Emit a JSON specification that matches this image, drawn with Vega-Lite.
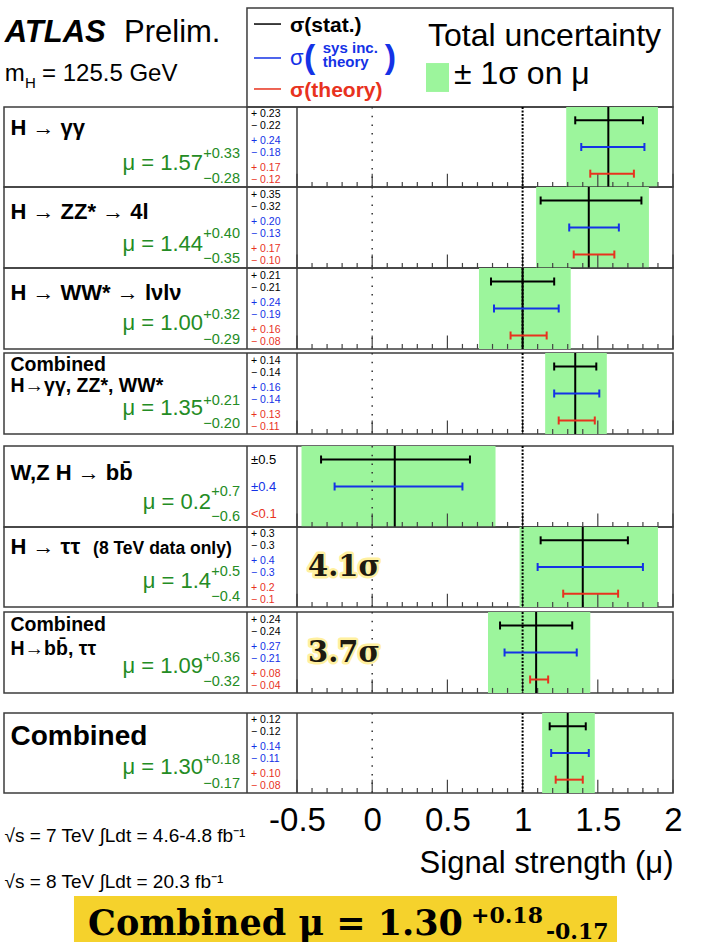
{
"$schema":"https://vega.github.io/schema/vega-lite/v6.json",
"padding":{"left":3,"top":7,"right":5,"bottom":0},
"background":"#ffffff",
"config":{"font":"Liberation Sans","view":{"stroke":"#3c3c3c","strokeWidth":1.5},"text":{"baseline":"alphabetic","color":"#000000"}},
"datasets":{
"majors":[{"v":-0.5},{"v":0},{"v":0.5},{"v":1},{"v":1.5},{"v":2}],
"minors":[{"v":-0.4},{"v":-0.3},{"v":-0.2},{"v":-0.1},{"v":0.1},{"v":0.2},{"v":0.3},{"v":0.4},{"v":0.6},{"v":0.7},{"v":0.8},{"v":0.9},{"v":1.1},{"v":1.2},{"v":1.3},{"v":1.4},{"v":1.6},{"v":1.7},{"v":1.8},{"v":1.9}],
"ch":[
{"id":"gg","label":"H → γγ","mu":1.57,"tlo":1.29,"thi":1.90,"mu_t":"μ = 1.57","up_t":"+0.33","dn_t":"−0.28"},
{"id":"zz","label":"H → ZZ* → 4l","mu":1.44,"tlo":1.09,"thi":1.84,"mu_t":"μ = 1.44","up_t":"+0.40","dn_t":"−0.35"},
{"id":"ww","label":"H → WW* → lνlν","mu":1.00,"tlo":0.71,"thi":1.32,"mu_t":"μ = 1.00","up_t":"+0.32","dn_t":"−0.29"},
{"id":"c1","label":"Combined","label2":"H→γγ, ZZ*, WW*","mu":1.35,"tlo":1.15,"thi":1.56,"mu_t":"μ = 1.35","up_t":"+0.21","dn_t":"−0.20"},
{"id":"bb","label":"W,Z H → bb̄","mu":0.15,"tlo":-0.47,"thi":0.82,"mu_t":"μ = 0.2","up_t":"+0.7","dn_t":"−0.6"},
{"id":"tt","label":"H → ττ","label2":"(8 TeV data only)","mu":1.40,"tlo":0.98,"thi":1.90,"mu_t":"μ = 1.4","up_t":"+0.5","dn_t":"−0.4","sig":"4.1σ"},
{"id":"c2","label":"Combined","label2":"H→bb̄, ττ","mu":1.09,"tlo":0.77,"thi":1.45,"mu_t":"μ = 1.09","up_t":"+0.36","dn_t":"−0.32","sig":"3.7σ"},
{"id":"all","label":"Combined","mu":1.30,"tlo":1.13,"thi":1.48,"mu_t":"μ = 1.30","up_t":"+0.18","dn_t":"−0.17"}
],
"err":[
{"id":"gg","kind":"stat","lo":1.35,"hi":1.80,"up_t":"+ 0.23","dn_t":"− 0.22"},
{"id":"gg","kind":"sys","lo":1.39,"hi":1.81,"up_t":"+ 0.24","dn_t":"− 0.18"},
{"id":"gg","kind":"th","lo":1.45,"hi":1.74,"up_t":"+ 0.17","dn_t":"− 0.12"},
{"id":"zz","kind":"stat","lo":1.12,"hi":1.79,"up_t":"+ 0.35","dn_t":"− 0.32"},
{"id":"zz","kind":"sys","lo":1.31,"hi":1.64,"up_t":"+ 0.20","dn_t":"− 0.13"},
{"id":"zz","kind":"th","lo":1.34,"hi":1.61,"up_t":"+ 0.17","dn_t":"− 0.10"},
{"id":"ww","kind":"stat","lo":0.79,"hi":1.21,"up_t":"+ 0.21","dn_t":"− 0.21"},
{"id":"ww","kind":"sys","lo":0.81,"hi":1.24,"up_t":"+ 0.24","dn_t":"− 0.19"},
{"id":"ww","kind":"th","lo":0.92,"hi":1.16,"up_t":"+ 0.16","dn_t":"− 0.08"},
{"id":"c1","kind":"stat","lo":1.21,"hi":1.49,"up_t":"+ 0.14","dn_t":"− 0.14"},
{"id":"c1","kind":"sys","lo":1.21,"hi":1.51,"up_t":"+ 0.16","dn_t":"− 0.14"},
{"id":"c1","kind":"th","lo":1.24,"hi":1.48,"up_t":"+ 0.13","dn_t":"− 0.11"},
{"id":"bb","kind":"stat","lo":-0.34,"hi":0.65,"up_t":"±0.5","dn_t":""},
{"id":"bb","kind":"sys","lo":-0.25,"hi":0.60,"up_t":"±0.4","dn_t":""},
{"id":"bb","kind":"th","lo":null,"hi":null,"up_t":"<0.1","dn_t":""},
{"id":"tt","kind":"stat","lo":1.12,"hi":1.70,"up_t":"+ 0.3","dn_t":"− 0.3"},
{"id":"tt","kind":"sys","lo":1.10,"hi":1.80,"up_t":"+ 0.4","dn_t":"− 0.3"},
{"id":"tt","kind":"th","lo":1.27,"hi":1.635,"up_t":"+ 0.2","dn_t":"− 0.1"},
{"id":"c2","kind":"stat","lo":0.85,"hi":1.33,"up_t":"+ 0.24","dn_t":"− 0.24"},
{"id":"c2","kind":"sys","lo":0.88,"hi":1.36,"up_t":"+ 0.27","dn_t":"− 0.21"},
{"id":"c2","kind":"th","lo":1.05,"hi":1.17,"up_t":"+ 0.08","dn_t":"− 0.04"},
{"id":"all","kind":"stat","lo":1.18,"hi":1.42,"up_t":"+ 0.12","dn_t":"− 0.12"},
{"id":"all","kind":"sys","lo":1.19,"hi":1.44,"up_t":"+ 0.14","dn_t":"− 0.11"},
{"id":"all","kind":"th","lo":1.22,"hi":1.40,"up_t":"+ 0.10","dn_t":"− 0.08"}
]
},
"vconcat":[
{"width":669,"height":99,"view":{"strokeOpacity":0},"data":{"values":[{}]},"layer":[
{"mark":{"type":"rect","fillOpacity":0,"stroke":"#3c3c3c","strokeWidth":1.5},"encoding":{"x":{"datum":0.3632,"type":"quantitative","scale":{"domain":[0,1]},"axis":null},"x2":{"datum":1},"y":{"datum":0,"type":"quantitative","scale":{"domain":[0,1],"reverse":true},"axis":null},"y2":{"datum":1}}},
{"mark":{"type":"text","align":"left","fontSize":31,"fontWeight":"bold","fontStyle":"italic"},"encoding":{"x":{"datum":0.001,"type":"quantitative","scale":{"domain":[0,1]},"axis":null},"y":{"datum":0.343,"type":"quantitative","scale":{"domain":[0,1],"reverse":true},"axis":null},"text":{"value":"ATLAS"}}},
{"mark":{"type":"text","align":"left","fontSize":31},"encoding":{"x":{"datum":0.1794,"type":"quantitative","scale":{"domain":[0,1]},"axis":null},"y":{"datum":0.343,"type":"quantitative","scale":{"domain":[0,1],"reverse":true},"axis":null},"text":{"value":"Prelim."}}},
{"mark":{"type":"text","align":"left","fontSize":24},"encoding":{"x":{"datum":0.001,"type":"quantitative","scale":{"domain":[0,1]},"axis":null},"y":{"datum":0.737,"type":"quantitative","scale":{"domain":[0,1],"reverse":true},"axis":null},"text":{"value":"m"}}},
{"mark":{"type":"text","align":"left","fontSize":15},"encoding":{"x":{"datum":0.0314,"type":"quantitative","scale":{"domain":[0,1]},"axis":null},"y":{"datum":0.808,"type":"quantitative","scale":{"domain":[0,1],"reverse":true},"axis":null},"text":{"value":"H"}}},
{"mark":{"type":"text","align":"left","fontSize":24},"encoding":{"x":{"datum":0.0568,"type":"quantitative","scale":{"domain":[0,1]},"axis":null},"y":{"datum":0.737,"type":"quantitative","scale":{"domain":[0,1],"reverse":true},"axis":null},"text":{"value":"= 125.5 GeV"}}},
{"mark":{"type":"rule","color":"#000000","strokeWidth":1.5},"encoding":{"x":{"datum":0.3737,"type":"quantitative","scale":{"domain":[0,1]},"axis":null},"x2":{"datum":0.4141},"y":{"datum":0.162,"type":"quantitative","scale":{"domain":[0,1],"reverse":true},"axis":null}}},
{"mark":{"type":"rule","color":"#1432e6","strokeWidth":1.5},"encoding":{"x":{"datum":0.3737,"type":"quantitative","scale":{"domain":[0,1]},"axis":null},"x2":{"datum":0.4141},"y":{"datum":0.505,"type":"quantitative","scale":{"domain":[0,1],"reverse":true},"axis":null}}},
{"mark":{"type":"rule","color":"#e8321e","strokeWidth":1.5},"encoding":{"x":{"datum":0.3737,"type":"quantitative","scale":{"domain":[0,1]},"axis":null},"x2":{"datum":0.4141},"y":{"datum":0.818,"type":"quantitative","scale":{"domain":[0,1],"reverse":true},"axis":null}}},
{"mark":{"type":"text","align":"left","fontSize":21,"fontWeight":"bold"},"encoding":{"x":{"datum":0.4275,"type":"quantitative","scale":{"domain":[0,1]},"axis":null},"y":{"datum":0.242,"type":"quantitative","scale":{"domain":[0,1],"reverse":true},"axis":null},"text":{"value":"σ(stat.)"}}},
{"mark":{"type":"text","align":"left","fontSize":22,"color":"#1432e6"},"encoding":{"x":{"datum":0.4275,"type":"quantitative","scale":{"domain":[0,1]},"axis":null},"y":{"datum":0.576,"type":"quantitative","scale":{"domain":[0,1],"reverse":true},"axis":null},"text":{"value":"σ"}}},
{"mark":{"type":"text","align":"left","fontSize":34,"fontWeight":"bold","color":"#1432e6"},"encoding":{"x":{"datum":0.4484,"type":"quantitative","scale":{"domain":[0,1]},"axis":null},"y":{"datum":0.606,"type":"quantitative","scale":{"domain":[0,1],"reverse":true},"axis":null},"text":{"value":"("}}},
{"mark":{"type":"text","align":"left","fontSize":15,"fontWeight":"bold","color":"#1432e6"},"encoding":{"x":{"datum":0.4765,"type":"quantitative","scale":{"domain":[0,1]},"axis":null},"y":{"datum":0.455,"type":"quantitative","scale":{"domain":[0,1],"reverse":true},"axis":null},"text":{"value":"sys inc."}}},
{"mark":{"type":"text","align":"left","fontSize":15,"fontWeight":"bold","color":"#1432e6"},"encoding":{"x":{"datum":0.4765,"type":"quantitative","scale":{"domain":[0,1]},"axis":null},"y":{"datum":0.596,"type":"quantitative","scale":{"domain":[0,1],"reverse":true},"axis":null},"text":{"value":"theory"}}},
{"mark":{"type":"text","align":"left","fontSize":34,"fontWeight":"bold","color":"#1432e6"},"encoding":{"x":{"datum":0.569,"type":"quantitative","scale":{"domain":[0,1]},"axis":null},"y":{"datum":0.606,"type":"quantitative","scale":{"domain":[0,1],"reverse":true},"axis":null},"text":{"value":")"}}},
{"mark":{"type":"text","align":"left","fontSize":21,"fontWeight":"bold","color":"#e8321e"},"encoding":{"x":{"datum":0.4275,"type":"quantitative","scale":{"domain":[0,1]},"axis":null},"y":{"datum":0.899,"type":"quantitative","scale":{"domain":[0,1],"reverse":true},"axis":null},"text":{"value":"σ(theory)"}}},
{"mark":{"type":"text","align":"left","fontSize":32},"encoding":{"x":{"datum":0.6338,"type":"quantitative","scale":{"domain":[0,1]},"axis":null},"y":{"datum":0.384,"type":"quantitative","scale":{"domain":[0,1],"reverse":true},"axis":null},"text":{"value":"Total uncertainty"}}},
{"mark":{"type":"rect","color":"#9cf59c"},"encoding":{"x":{"datum":0.6308,"type":"quantitative","scale":{"domain":[0,1]},"axis":null},"x2":{"datum":0.6652},"y":{"datum":0.556,"type":"quantitative","scale":{"domain":[0,1],"reverse":true},"axis":null},"y2":{"datum":0.848}}},
{"mark":{"type":"text","align":"left","fontSize":32},"encoding":{"x":{"datum":0.6726,"type":"quantitative","scale":{"domain":[0,1]},"axis":null},"y":{"datum":0.768,"type":"quantitative","scale":{"domain":[0,1],"reverse":true},"axis":null},"text":{"value":"± 1σ on μ"}}}
]},

{"width":669,"height":80,"data":{"name":"ch"},"transform":[{"filter":"datum.id=='gg'"}],"layer":[
{"mark":{"type":"rect","color":"#9cf59c"},"encoding":{"x":{"field":"tlo","type":"quantitative","scale":{"domain":[-2.4481,2],"nice":false,"zero":false},"axis":{"orient":"bottom","ticks":false,"labels":false,"domain":false,"grid":false,"title":null}},"x2":{"field":"thi"}}},
{"data":{"name":"majors"},"mark":{"type":"point","shape":"M0,0L0,1","size":720,"strokeWidth":1.2,"color":"#444444","filled":false,"opacity":1},"encoding":{"x":{"field":"v","type":"quantitative","scale":{"domain":[-2.4481,2],"nice":false,"zero":false}},"y":{"datum":"th","type":"nominal","scale":{"type":"point","domain":["stat","sys","th"],"padding":0.5},"axis":null}}},
{"data":{"name":"minors"},"mark":{"type":"point","shape":"M0,0.63L0,1","size":720,"strokeWidth":1.2,"color":"#444444","filled":false,"opacity":1},"encoding":{"x":{"field":"v","type":"quantitative","scale":{"domain":[-2.4481,2],"nice":false,"zero":false}},"y":{"datum":"th","type":"nominal","scale":{"type":"point","domain":["stat","sys","th"],"padding":0.5},"axis":null}}},
{"mark":{"type":"rule","color":"#3c3c3c","strokeWidth":1.5},"encoding":{"x":{"datum":-0.8324,"type":"quantitative","scale":{"domain":[-2.4481,2],"nice":false,"zero":false}}}},
{"mark":{"type":"rule","color":"#3c3c3c","strokeWidth":1.5},"encoding":{"x":{"datum":-0.5,"type":"quantitative","scale":{"domain":[-2.4481,2],"nice":false,"zero":false}}}},
{"mark":{"type":"rule","color":"#333333","strokeWidth":1.5,"strokeDash":[1.5,7.2]},"encoding":{"x":{"datum":0,"type":"quantitative","scale":{"domain":[-2.4481,2],"nice":false,"zero":false}}}},
{"mark":{"type":"rule","color":"#000000","strokeWidth":2,"strokeDash":[2,1.5]},"encoding":{"x":{"datum":1,"type":"quantitative","scale":{"domain":[-2.4481,2],"nice":false,"zero":false}}}},
{"mark":{"type":"rule","color":"#000000","strokeWidth":2},"encoding":{"x":{"field":"mu","type":"quantitative","scale":{"domain":[-2.4481,2],"nice":false,"zero":false}}}},
{"data":{"name":"err"},"transform":[{"filter":"datum.id=='gg' && isValid(datum.lo)"}],"mark":{"type":"rule","strokeWidth":2},"encoding":{"x":{"field":"lo","type":"quantitative","scale":{"domain":[-2.4481,2],"nice":false,"zero":false}},"x2":{"field":"hi"},"y":{"field":"kind","type":"nominal","scale":{"type":"point","domain":["stat","sys","th"],"padding":0.5},"axis":null},"color":{"field":"kind","type":"nominal","scale":{"domain":["stat","sys","th"],"range":["#000000","#1432e6","#e8321e"]},"legend":null}}},
{"data":{"name":"err"},"transform":[{"filter":"datum.id=='gg' && isValid(datum.lo)"}],"mark":{"type":"point","shape":"M0,-1L0,1","size":64,"strokeWidth":2,"filled":false,"opacity":1},"encoding":{"x":{"field":"lo","type":"quantitative","scale":{"domain":[-2.4481,2],"nice":false,"zero":false}},"y":{"field":"kind","type":"nominal","scale":{"type":"point","domain":["stat","sys","th"],"padding":0.5},"axis":null},"color":{"field":"kind","type":"nominal","scale":{"domain":["stat","sys","th"],"range":["#000000","#1432e6","#e8321e"]},"legend":null}}},
{"data":{"name":"err"},"transform":[{"filter":"datum.id=='gg' && isValid(datum.lo)"}],"mark":{"type":"point","shape":"M0,-1L0,1","size":64,"strokeWidth":2,"filled":false,"opacity":1},"encoding":{"x":{"field":"hi","type":"quantitative","scale":{"domain":[-2.4481,2],"nice":false,"zero":false}},"y":{"field":"kind","type":"nominal","scale":{"type":"point","domain":["stat","sys","th"],"padding":0.5},"axis":null},"color":{"field":"kind","type":"nominal","scale":{"domain":["stat","sys","th"],"range":["#000000","#1432e6","#e8321e"]},"legend":null}}},
{"data":{"name":"err"},"transform":[{"filter":"datum.id=='gg'"}],"mark":{"type":"text","align":"left","baseline":"middle","fontSize":10.5,"dy":-6},"encoding":{"x":{"datum":-0.8058,"type":"quantitative","scale":{"domain":[-2.4481,2],"nice":false,"zero":false}},"y":{"field":"kind","type":"nominal","scale":{"type":"point","domain":["stat","sys","th"],"padding":0.5},"axis":null},"color":{"field":"kind","type":"nominal","scale":{"domain":["stat","sys","th"],"range":["#000000","#1432e6","#e8321e"]},"legend":null},"text":{"field":"up_t"}}},
{"data":{"name":"err"},"transform":[{"filter":"datum.id=='gg'"}],"mark":{"type":"text","align":"left","baseline":"middle","fontSize":10.5,"dy":6},"encoding":{"x":{"datum":-0.8058,"type":"quantitative","scale":{"domain":[-2.4481,2],"nice":false,"zero":false}},"y":{"field":"kind","type":"nominal","scale":{"type":"point","domain":["stat","sys","th"],"padding":0.5},"axis":null},"color":{"field":"kind","type":"nominal","scale":{"domain":["stat","sys","th"],"range":["#000000","#1432e6","#e8321e"]},"legend":null},"text":{"field":"dn_t"}}},
{"mark":{"type":"text","align":"left","fontSize":22,"fontWeight":"bold","dy":15},"encoding":{"x":{"datum":-2.405,"type":"quantitative","scale":{"domain":[-2.4481,2],"nice":false,"zero":false}},"y":{"datum":"stat","type":"nominal","scale":{"type":"point","domain":["stat","sys","th"],"padding":0.5},"axis":null},"text":{"field":"label"}}},
{"mark":{"type":"text","align":"right","fontSize":22,"color":"#248c24","dy":-4},"encoding":{"x":{"datum":-1.125,"type":"quantitative","scale":{"domain":[-2.4481,2],"nice":false,"zero":false}},"y":{"datum":"th","type":"nominal","scale":{"type":"point","domain":["stat","sys","th"],"padding":0.5},"axis":null},"text":{"field":"mu_t"}}},
{"mark":{"type":"text","align":"right","fontSize":14.5,"color":"#248c24","dy":11},"encoding":{"x":{"datum":-0.879,"type":"quantitative","scale":{"domain":[-2.4481,2],"nice":false,"zero":false}},"y":{"datum":"sys","type":"nominal","scale":{"type":"point","domain":["stat","sys","th"],"padding":0.5},"axis":null},"text":{"field":"up_t"}}},
{"mark":{"type":"text","align":"right","fontSize":14.5,"color":"#248c24","dy":9},"encoding":{"x":{"datum":-0.879,"type":"quantitative","scale":{"domain":[-2.4481,2],"nice":false,"zero":false}},"y":{"datum":"th","type":"nominal","scale":{"type":"point","domain":["stat","sys","th"],"padding":0.5},"axis":null},"text":{"field":"dn_t"}}}
]},

{"width":669,"height":81,"data":{"name":"ch"},"transform":[{"filter":"datum.id=='zz'"}],"layer":[
{"mark":{"type":"rect","color":"#9cf59c"},"encoding":{"x":{"field":"tlo","type":"quantitative","scale":{"domain":[-2.4481,2],"nice":false,"zero":false},"axis":{"orient":"bottom","ticks":false,"labels":false,"domain":false,"grid":false,"title":null}},"x2":{"field":"thi"}}},
{"data":{"name":"majors"},"mark":{"type":"point","shape":"M0,0L0,1","size":720,"strokeWidth":1.2,"color":"#444444","filled":false,"opacity":1},"encoding":{"x":{"field":"v","type":"quantitative","scale":{"domain":[-2.4481,2],"nice":false,"zero":false}},"y":{"datum":"th","type":"nominal","scale":{"type":"point","domain":["stat","sys","th"],"padding":0.5},"axis":null}}},
{"data":{"name":"minors"},"mark":{"type":"point","shape":"M0,0.63L0,1","size":720,"strokeWidth":1.2,"color":"#444444","filled":false,"opacity":1},"encoding":{"x":{"field":"v","type":"quantitative","scale":{"domain":[-2.4481,2],"nice":false,"zero":false}},"y":{"datum":"th","type":"nominal","scale":{"type":"point","domain":["stat","sys","th"],"padding":0.5},"axis":null}}},
{"mark":{"type":"rule","color":"#3c3c3c","strokeWidth":1.5},"encoding":{"x":{"datum":-0.8324,"type":"quantitative","scale":{"domain":[-2.4481,2],"nice":false,"zero":false}}}},
{"mark":{"type":"rule","color":"#3c3c3c","strokeWidth":1.5},"encoding":{"x":{"datum":-0.5,"type":"quantitative","scale":{"domain":[-2.4481,2],"nice":false,"zero":false}}}},
{"mark":{"type":"rule","color":"#333333","strokeWidth":1.5,"strokeDash":[1.5,7.2]},"encoding":{"x":{"datum":0,"type":"quantitative","scale":{"domain":[-2.4481,2],"nice":false,"zero":false}}}},
{"mark":{"type":"rule","color":"#000000","strokeWidth":2,"strokeDash":[2,1.5]},"encoding":{"x":{"datum":1,"type":"quantitative","scale":{"domain":[-2.4481,2],"nice":false,"zero":false}}}},
{"mark":{"type":"rule","color":"#000000","strokeWidth":2},"encoding":{"x":{"field":"mu","type":"quantitative","scale":{"domain":[-2.4481,2],"nice":false,"zero":false}}}},
{"data":{"name":"err"},"transform":[{"filter":"datum.id=='zz' && isValid(datum.lo)"}],"mark":{"type":"rule","strokeWidth":2},"encoding":{"x":{"field":"lo","type":"quantitative","scale":{"domain":[-2.4481,2],"nice":false,"zero":false}},"x2":{"field":"hi"},"y":{"field":"kind","type":"nominal","scale":{"type":"point","domain":["stat","sys","th"],"padding":0.5},"axis":null},"color":{"field":"kind","type":"nominal","scale":{"domain":["stat","sys","th"],"range":["#000000","#1432e6","#e8321e"]},"legend":null}}},
{"data":{"name":"err"},"transform":[{"filter":"datum.id=='zz' && isValid(datum.lo)"}],"mark":{"type":"point","shape":"M0,-1L0,1","size":64,"strokeWidth":2,"filled":false,"opacity":1},"encoding":{"x":{"field":"lo","type":"quantitative","scale":{"domain":[-2.4481,2],"nice":false,"zero":false}},"y":{"field":"kind","type":"nominal","scale":{"type":"point","domain":["stat","sys","th"],"padding":0.5},"axis":null},"color":{"field":"kind","type":"nominal","scale":{"domain":["stat","sys","th"],"range":["#000000","#1432e6","#e8321e"]},"legend":null}}},
{"data":{"name":"err"},"transform":[{"filter":"datum.id=='zz' && isValid(datum.lo)"}],"mark":{"type":"point","shape":"M0,-1L0,1","size":64,"strokeWidth":2,"filled":false,"opacity":1},"encoding":{"x":{"field":"hi","type":"quantitative","scale":{"domain":[-2.4481,2],"nice":false,"zero":false}},"y":{"field":"kind","type":"nominal","scale":{"type":"point","domain":["stat","sys","th"],"padding":0.5},"axis":null},"color":{"field":"kind","type":"nominal","scale":{"domain":["stat","sys","th"],"range":["#000000","#1432e6","#e8321e"]},"legend":null}}},
{"data":{"name":"err"},"transform":[{"filter":"datum.id=='zz'"}],"mark":{"type":"text","align":"left","baseline":"middle","fontSize":10.5,"dy":-6},"encoding":{"x":{"datum":-0.8058,"type":"quantitative","scale":{"domain":[-2.4481,2],"nice":false,"zero":false}},"y":{"field":"kind","type":"nominal","scale":{"type":"point","domain":["stat","sys","th"],"padding":0.5},"axis":null},"color":{"field":"kind","type":"nominal","scale":{"domain":["stat","sys","th"],"range":["#000000","#1432e6","#e8321e"]},"legend":null},"text":{"field":"up_t"}}},
{"data":{"name":"err"},"transform":[{"filter":"datum.id=='zz'"}],"mark":{"type":"text","align":"left","baseline":"middle","fontSize":10.5,"dy":6},"encoding":{"x":{"datum":-0.8058,"type":"quantitative","scale":{"domain":[-2.4481,2],"nice":false,"zero":false}},"y":{"field":"kind","type":"nominal","scale":{"type":"point","domain":["stat","sys","th"],"padding":0.5},"axis":null},"color":{"field":"kind","type":"nominal","scale":{"domain":["stat","sys","th"],"range":["#000000","#1432e6","#e8321e"]},"legend":null},"text":{"field":"dn_t"}}},
{"mark":{"type":"text","align":"left","fontSize":22,"fontWeight":"bold","dy":18},"encoding":{"x":{"datum":-2.405,"type":"quantitative","scale":{"domain":[-2.4481,2],"nice":false,"zero":false}},"y":{"datum":"stat","type":"nominal","scale":{"type":"point","domain":["stat","sys","th"],"padding":0.5},"axis":null},"text":{"field":"label"}}},
{"mark":{"type":"text","align":"right","fontSize":22,"color":"#248c24","dy":-4},"encoding":{"x":{"datum":-1.125,"type":"quantitative","scale":{"domain":[-2.4481,2],"nice":false,"zero":false}},"y":{"datum":"th","type":"nominal","scale":{"type":"point","domain":["stat","sys","th"],"padding":0.5},"axis":null},"text":{"field":"mu_t"}}},
{"mark":{"type":"text","align":"right","fontSize":14.5,"color":"#248c24","dy":10},"encoding":{"x":{"datum":-0.879,"type":"quantitative","scale":{"domain":[-2.4481,2],"nice":false,"zero":false}},"y":{"datum":"sys","type":"nominal","scale":{"type":"point","domain":["stat","sys","th"],"padding":0.5},"axis":null},"text":{"field":"up_t"}}},
{"mark":{"type":"text","align":"right","fontSize":14.5,"color":"#248c24","dy":8},"encoding":{"x":{"datum":-0.879,"type":"quantitative","scale":{"domain":[-2.4481,2],"nice":false,"zero":false}},"y":{"datum":"th","type":"nominal","scale":{"type":"point","domain":["stat","sys","th"],"padding":0.5},"axis":null},"text":{"field":"dn_t"}}}
]},

{"width":669,"height":81,"data":{"name":"ch"},"transform":[{"filter":"datum.id=='ww'"}],"layer":[
{"mark":{"type":"rect","color":"#9cf59c"},"encoding":{"x":{"field":"tlo","type":"quantitative","scale":{"domain":[-2.4481,2],"nice":false,"zero":false},"axis":{"orient":"bottom","ticks":false,"labels":false,"domain":false,"grid":false,"title":null}},"x2":{"field":"thi"}}},
{"data":{"name":"majors"},"mark":{"type":"point","shape":"M0,0L0,1","size":720,"strokeWidth":1.2,"color":"#444444","filled":false,"opacity":1},"encoding":{"x":{"field":"v","type":"quantitative","scale":{"domain":[-2.4481,2],"nice":false,"zero":false}},"y":{"datum":"th","type":"nominal","scale":{"type":"point","domain":["stat","sys","th"],"padding":0.5},"axis":null}}},
{"data":{"name":"minors"},"mark":{"type":"point","shape":"M0,0.63L0,1","size":720,"strokeWidth":1.2,"color":"#444444","filled":false,"opacity":1},"encoding":{"x":{"field":"v","type":"quantitative","scale":{"domain":[-2.4481,2],"nice":false,"zero":false}},"y":{"datum":"th","type":"nominal","scale":{"type":"point","domain":["stat","sys","th"],"padding":0.5},"axis":null}}},
{"mark":{"type":"rule","color":"#3c3c3c","strokeWidth":1.5},"encoding":{"x":{"datum":-0.8324,"type":"quantitative","scale":{"domain":[-2.4481,2],"nice":false,"zero":false}}}},
{"mark":{"type":"rule","color":"#3c3c3c","strokeWidth":1.5},"encoding":{"x":{"datum":-0.5,"type":"quantitative","scale":{"domain":[-2.4481,2],"nice":false,"zero":false}}}},
{"mark":{"type":"rule","color":"#333333","strokeWidth":1.5,"strokeDash":[1.5,7.2]},"encoding":{"x":{"datum":0,"type":"quantitative","scale":{"domain":[-2.4481,2],"nice":false,"zero":false}}}},
{"mark":{"type":"rule","color":"#000000","strokeWidth":2,"strokeDash":[2,1.5]},"encoding":{"x":{"datum":1,"type":"quantitative","scale":{"domain":[-2.4481,2],"nice":false,"zero":false}}}},
{"mark":{"type":"rule","color":"#000000","strokeWidth":2},"encoding":{"x":{"field":"mu","type":"quantitative","scale":{"domain":[-2.4481,2],"nice":false,"zero":false}}}},
{"data":{"name":"err"},"transform":[{"filter":"datum.id=='ww' && isValid(datum.lo)"}],"mark":{"type":"rule","strokeWidth":2},"encoding":{"x":{"field":"lo","type":"quantitative","scale":{"domain":[-2.4481,2],"nice":false,"zero":false}},"x2":{"field":"hi"},"y":{"field":"kind","type":"nominal","scale":{"type":"point","domain":["stat","sys","th"],"padding":0.5},"axis":null},"color":{"field":"kind","type":"nominal","scale":{"domain":["stat","sys","th"],"range":["#000000","#1432e6","#e8321e"]},"legend":null}}},
{"data":{"name":"err"},"transform":[{"filter":"datum.id=='ww' && isValid(datum.lo)"}],"mark":{"type":"point","shape":"M0,-1L0,1","size":64,"strokeWidth":2,"filled":false,"opacity":1},"encoding":{"x":{"field":"lo","type":"quantitative","scale":{"domain":[-2.4481,2],"nice":false,"zero":false}},"y":{"field":"kind","type":"nominal","scale":{"type":"point","domain":["stat","sys","th"],"padding":0.5},"axis":null},"color":{"field":"kind","type":"nominal","scale":{"domain":["stat","sys","th"],"range":["#000000","#1432e6","#e8321e"]},"legend":null}}},
{"data":{"name":"err"},"transform":[{"filter":"datum.id=='ww' && isValid(datum.lo)"}],"mark":{"type":"point","shape":"M0,-1L0,1","size":64,"strokeWidth":2,"filled":false,"opacity":1},"encoding":{"x":{"field":"hi","type":"quantitative","scale":{"domain":[-2.4481,2],"nice":false,"zero":false}},"y":{"field":"kind","type":"nominal","scale":{"type":"point","domain":["stat","sys","th"],"padding":0.5},"axis":null},"color":{"field":"kind","type":"nominal","scale":{"domain":["stat","sys","th"],"range":["#000000","#1432e6","#e8321e"]},"legend":null}}},
{"data":{"name":"err"},"transform":[{"filter":"datum.id=='ww'"}],"mark":{"type":"text","align":"left","baseline":"middle","fontSize":10.5,"dy":-6},"encoding":{"x":{"datum":-0.8058,"type":"quantitative","scale":{"domain":[-2.4481,2],"nice":false,"zero":false}},"y":{"field":"kind","type":"nominal","scale":{"type":"point","domain":["stat","sys","th"],"padding":0.5},"axis":null},"color":{"field":"kind","type":"nominal","scale":{"domain":["stat","sys","th"],"range":["#000000","#1432e6","#e8321e"]},"legend":null},"text":{"field":"up_t"}}},
{"data":{"name":"err"},"transform":[{"filter":"datum.id=='ww'"}],"mark":{"type":"text","align":"left","baseline":"middle","fontSize":10.5,"dy":6},"encoding":{"x":{"datum":-0.8058,"type":"quantitative","scale":{"domain":[-2.4481,2],"nice":false,"zero":false}},"y":{"field":"kind","type":"nominal","scale":{"type":"point","domain":["stat","sys","th"],"padding":0.5},"axis":null},"color":{"field":"kind","type":"nominal","scale":{"domain":["stat","sys","th"],"range":["#000000","#1432e6","#e8321e"]},"legend":null},"text":{"field":"dn_t"}}},
{"mark":{"type":"text","align":"left","fontSize":22,"fontWeight":"bold","dy":18},"encoding":{"x":{"datum":-2.405,"type":"quantitative","scale":{"domain":[-2.4481,2],"nice":false,"zero":false}},"y":{"datum":"stat","type":"nominal","scale":{"type":"point","domain":["stat","sys","th"],"padding":0.5},"axis":null},"text":{"field":"label"}}},
{"mark":{"type":"text","align":"right","fontSize":22,"color":"#248c24","dy":-5.5},"encoding":{"x":{"datum":-1.125,"type":"quantitative","scale":{"domain":[-2.4481,2],"nice":false,"zero":false}},"y":{"datum":"th","type":"nominal","scale":{"type":"point","domain":["stat","sys","th"],"padding":0.5},"axis":null},"text":{"field":"mu_t"}}},
{"mark":{"type":"text","align":"right","fontSize":14.5,"color":"#248c24","dy":10},"encoding":{"x":{"datum":-0.879,"type":"quantitative","scale":{"domain":[-2.4481,2],"nice":false,"zero":false}},"y":{"datum":"sys","type":"nominal","scale":{"type":"point","domain":["stat","sys","th"],"padding":0.5},"axis":null},"text":{"field":"up_t"}}},
{"mark":{"type":"text","align":"right","fontSize":14.5,"color":"#248c24","dy":8},"encoding":{"x":{"datum":-0.879,"type":"quantitative","scale":{"domain":[-2.4481,2],"nice":false,"zero":false}},"y":{"datum":"th","type":"nominal","scale":{"type":"point","domain":["stat","sys","th"],"padding":0.5},"axis":null},"text":{"field":"dn_t"}}}
]},

{"width":669,"height":4,"view":{"strokeOpacity":0},"data":{"values":[{}]},"mark":{"type":"text"},"encoding":{"text":{"value":""}}},

{"width":669,"height":81,"data":{"name":"ch"},"transform":[{"filter":"datum.id=='c1'"}],"layer":[
{"mark":{"type":"rect","color":"#9cf59c"},"encoding":{"x":{"field":"tlo","type":"quantitative","scale":{"domain":[-2.4481,2],"nice":false,"zero":false},"axis":{"orient":"bottom","ticks":false,"labels":false,"domain":false,"grid":false,"title":null}},"x2":{"field":"thi"}}},
{"data":{"name":"majors"},"mark":{"type":"point","shape":"M0,0L0,1","size":720,"strokeWidth":1.2,"color":"#444444","filled":false,"opacity":1},"encoding":{"x":{"field":"v","type":"quantitative","scale":{"domain":[-2.4481,2],"nice":false,"zero":false}},"y":{"datum":"th","type":"nominal","scale":{"type":"point","domain":["stat","sys","th"],"padding":0.5},"axis":null}}},
{"data":{"name":"minors"},"mark":{"type":"point","shape":"M0,0.63L0,1","size":720,"strokeWidth":1.2,"color":"#444444","filled":false,"opacity":1},"encoding":{"x":{"field":"v","type":"quantitative","scale":{"domain":[-2.4481,2],"nice":false,"zero":false}},"y":{"datum":"th","type":"nominal","scale":{"type":"point","domain":["stat","sys","th"],"padding":0.5},"axis":null}}},
{"mark":{"type":"rule","color":"#3c3c3c","strokeWidth":1.5},"encoding":{"x":{"datum":-0.8324,"type":"quantitative","scale":{"domain":[-2.4481,2],"nice":false,"zero":false}}}},
{"mark":{"type":"rule","color":"#3c3c3c","strokeWidth":1.5},"encoding":{"x":{"datum":-0.5,"type":"quantitative","scale":{"domain":[-2.4481,2],"nice":false,"zero":false}}}},
{"mark":{"type":"rule","color":"#333333","strokeWidth":1.5,"strokeDash":[1.5,7.2]},"encoding":{"x":{"datum":0,"type":"quantitative","scale":{"domain":[-2.4481,2],"nice":false,"zero":false}}}},
{"mark":{"type":"rule","color":"#000000","strokeWidth":2,"strokeDash":[2,1.5]},"encoding":{"x":{"datum":1,"type":"quantitative","scale":{"domain":[-2.4481,2],"nice":false,"zero":false}}}},
{"mark":{"type":"rule","color":"#000000","strokeWidth":2},"encoding":{"x":{"field":"mu","type":"quantitative","scale":{"domain":[-2.4481,2],"nice":false,"zero":false}}}},
{"data":{"name":"err"},"transform":[{"filter":"datum.id=='c1' && isValid(datum.lo)"}],"mark":{"type":"rule","strokeWidth":2},"encoding":{"x":{"field":"lo","type":"quantitative","scale":{"domain":[-2.4481,2],"nice":false,"zero":false}},"x2":{"field":"hi"},"y":{"field":"kind","type":"nominal","scale":{"type":"point","domain":["stat","sys","th"],"padding":0.5},"axis":null},"color":{"field":"kind","type":"nominal","scale":{"domain":["stat","sys","th"],"range":["#000000","#1432e6","#e8321e"]},"legend":null}}},
{"data":{"name":"err"},"transform":[{"filter":"datum.id=='c1' && isValid(datum.lo)"}],"mark":{"type":"point","shape":"M0,-1L0,1","size":64,"strokeWidth":2,"filled":false,"opacity":1},"encoding":{"x":{"field":"lo","type":"quantitative","scale":{"domain":[-2.4481,2],"nice":false,"zero":false}},"y":{"field":"kind","type":"nominal","scale":{"type":"point","domain":["stat","sys","th"],"padding":0.5},"axis":null},"color":{"field":"kind","type":"nominal","scale":{"domain":["stat","sys","th"],"range":["#000000","#1432e6","#e8321e"]},"legend":null}}},
{"data":{"name":"err"},"transform":[{"filter":"datum.id=='c1' && isValid(datum.lo)"}],"mark":{"type":"point","shape":"M0,-1L0,1","size":64,"strokeWidth":2,"filled":false,"opacity":1},"encoding":{"x":{"field":"hi","type":"quantitative","scale":{"domain":[-2.4481,2],"nice":false,"zero":false}},"y":{"field":"kind","type":"nominal","scale":{"type":"point","domain":["stat","sys","th"],"padding":0.5},"axis":null},"color":{"field":"kind","type":"nominal","scale":{"domain":["stat","sys","th"],"range":["#000000","#1432e6","#e8321e"]},"legend":null}}},
{"data":{"name":"err"},"transform":[{"filter":"datum.id=='c1'"}],"mark":{"type":"text","align":"left","baseline":"middle","fontSize":10.5,"dy":-6},"encoding":{"x":{"datum":-0.8058,"type":"quantitative","scale":{"domain":[-2.4481,2],"nice":false,"zero":false}},"y":{"field":"kind","type":"nominal","scale":{"type":"point","domain":["stat","sys","th"],"padding":0.5},"axis":null},"color":{"field":"kind","type":"nominal","scale":{"domain":["stat","sys","th"],"range":["#000000","#1432e6","#e8321e"]},"legend":null},"text":{"field":"up_t"}}},
{"data":{"name":"err"},"transform":[{"filter":"datum.id=='c1'"}],"mark":{"type":"text","align":"left","baseline":"middle","fontSize":10.5,"dy":6},"encoding":{"x":{"datum":-0.8058,"type":"quantitative","scale":{"domain":[-2.4481,2],"nice":false,"zero":false}},"y":{"field":"kind","type":"nominal","scale":{"type":"point","domain":["stat","sys","th"],"padding":0.5},"axis":null},"color":{"field":"kind","type":"nominal","scale":{"domain":["stat","sys","th"],"range":["#000000","#1432e6","#e8321e"]},"legend":null},"text":{"field":"dn_t"}}},
{"mark":{"type":"text","align":"left","fontSize":19.5,"fontWeight":"bold","dy":4},"encoding":{"x":{"datum":-2.405,"type":"quantitative","scale":{"domain":[-2.4481,2],"nice":false,"zero":false}},"y":{"datum":"stat","type":"nominal","scale":{"type":"point","domain":["stat","sys","th"],"padding":0.5},"axis":null},"text":{"field":"label"}}},
{"mark":{"type":"text","align":"left","fontSize":19.5,"fontWeight":"bold","dy":-2},"encoding":{"x":{"datum":-2.405,"type":"quantitative","scale":{"domain":[-2.4481,2],"nice":false,"zero":false}},"y":{"datum":"sys","type":"nominal","scale":{"type":"point","domain":["stat","sys","th"],"padding":0.5},"axis":null},"text":{"field":"label2"}}},
{"mark":{"type":"text","align":"right","fontSize":22,"color":"#248c24","dy":-6},"encoding":{"x":{"datum":-1.125,"type":"quantitative","scale":{"domain":[-2.4481,2],"nice":false,"zero":false}},"y":{"datum":"th","type":"nominal","scale":{"type":"point","domain":["stat","sys","th"],"padding":0.5},"axis":null},"text":{"field":"mu_t"}}},
{"mark":{"type":"text","align":"right","fontSize":14.5,"color":"#248c24","dy":11.5},"encoding":{"x":{"datum":-0.879,"type":"quantitative","scale":{"domain":[-2.4481,2],"nice":false,"zero":false}},"y":{"datum":"sys","type":"nominal","scale":{"type":"point","domain":["stat","sys","th"],"padding":0.5},"axis":null},"text":{"field":"up_t"}}},
{"mark":{"type":"text","align":"right","fontSize":14.5,"color":"#248c24","dy":7},"encoding":{"x":{"datum":-0.879,"type":"quantitative","scale":{"domain":[-2.4481,2],"nice":false,"zero":false}},"y":{"datum":"th","type":"nominal","scale":{"type":"point","domain":["stat","sys","th"],"padding":0.5},"axis":null},"text":{"field":"dn_t"}}}
]},

{"width":669,"height":12,"view":{"strokeOpacity":0},"data":{"values":[{}]},"mark":{"type":"text"},"encoding":{"text":{"value":""}}},

{"width":669,"height":81,"data":{"name":"ch"},"transform":[{"filter":"datum.id=='bb'"}],"layer":[
{"mark":{"type":"rect","color":"#9cf59c"},"encoding":{"x":{"field":"tlo","type":"quantitative","scale":{"domain":[-2.4481,2],"nice":false,"zero":false},"axis":{"orient":"bottom","ticks":false,"labels":false,"domain":false,"grid":false,"title":null}},"x2":{"field":"thi"}}},
{"data":{"name":"majors"},"mark":{"type":"point","shape":"M0,0L0,1","size":720,"strokeWidth":1.2,"color":"#444444","filled":false,"opacity":1},"encoding":{"x":{"field":"v","type":"quantitative","scale":{"domain":[-2.4481,2],"nice":false,"zero":false}},"y":{"datum":"th","type":"nominal","scale":{"type":"point","domain":["stat","sys","th"],"padding":0.5},"axis":null}}},
{"data":{"name":"minors"},"mark":{"type":"point","shape":"M0,0.63L0,1","size":720,"strokeWidth":1.2,"color":"#444444","filled":false,"opacity":1},"encoding":{"x":{"field":"v","type":"quantitative","scale":{"domain":[-2.4481,2],"nice":false,"zero":false}},"y":{"datum":"th","type":"nominal","scale":{"type":"point","domain":["stat","sys","th"],"padding":0.5},"axis":null}}},
{"mark":{"type":"rule","color":"#3c3c3c","strokeWidth":1.5},"encoding":{"x":{"datum":-0.8324,"type":"quantitative","scale":{"domain":[-2.4481,2],"nice":false,"zero":false}}}},
{"mark":{"type":"rule","color":"#3c3c3c","strokeWidth":1.5},"encoding":{"x":{"datum":-0.5,"type":"quantitative","scale":{"domain":[-2.4481,2],"nice":false,"zero":false}}}},
{"mark":{"type":"rule","color":"#333333","strokeWidth":1.5,"strokeDash":[1.5,7.2]},"encoding":{"x":{"datum":0,"type":"quantitative","scale":{"domain":[-2.4481,2],"nice":false,"zero":false}}}},
{"mark":{"type":"rule","color":"#000000","strokeWidth":2,"strokeDash":[2,1.5]},"encoding":{"x":{"datum":1,"type":"quantitative","scale":{"domain":[-2.4481,2],"nice":false,"zero":false}}}},
{"mark":{"type":"rule","color":"#000000","strokeWidth":2},"encoding":{"x":{"field":"mu","type":"quantitative","scale":{"domain":[-2.4481,2],"nice":false,"zero":false}}}},
{"data":{"name":"err"},"transform":[{"filter":"datum.id=='bb' && isValid(datum.lo)"}],"mark":{"type":"rule","strokeWidth":2},"encoding":{"x":{"field":"lo","type":"quantitative","scale":{"domain":[-2.4481,2],"nice":false,"zero":false}},"x2":{"field":"hi"},"y":{"field":"kind","type":"nominal","scale":{"type":"point","domain":["stat","sys","th"],"padding":0.5},"axis":null},"color":{"field":"kind","type":"nominal","scale":{"domain":["stat","sys","th"],"range":["#000000","#1432e6","#e8321e"]},"legend":null}}},
{"data":{"name":"err"},"transform":[{"filter":"datum.id=='bb' && isValid(datum.lo)"}],"mark":{"type":"point","shape":"M0,-1L0,1","size":64,"strokeWidth":2,"filled":false,"opacity":1},"encoding":{"x":{"field":"lo","type":"quantitative","scale":{"domain":[-2.4481,2],"nice":false,"zero":false}},"y":{"field":"kind","type":"nominal","scale":{"type":"point","domain":["stat","sys","th"],"padding":0.5},"axis":null},"color":{"field":"kind","type":"nominal","scale":{"domain":["stat","sys","th"],"range":["#000000","#1432e6","#e8321e"]},"legend":null}}},
{"data":{"name":"err"},"transform":[{"filter":"datum.id=='bb' && isValid(datum.lo)"}],"mark":{"type":"point","shape":"M0,-1L0,1","size":64,"strokeWidth":2,"filled":false,"opacity":1},"encoding":{"x":{"field":"hi","type":"quantitative","scale":{"domain":[-2.4481,2],"nice":false,"zero":false}},"y":{"field":"kind","type":"nominal","scale":{"type":"point","domain":["stat","sys","th"],"padding":0.5},"axis":null},"color":{"field":"kind","type":"nominal","scale":{"domain":["stat","sys","th"],"range":["#000000","#1432e6","#e8321e"]},"legend":null}}},
{"data":{"name":"err"},"transform":[{"filter":"datum.id=='bb'"}],"mark":{"type":"text","align":"left","baseline":"middle","fontSize":13},"encoding":{"x":{"datum":-0.8058,"type":"quantitative","scale":{"domain":[-2.4481,2],"nice":false,"zero":false}},"y":{"field":"kind","type":"nominal","scale":{"type":"point","domain":["stat","sys","th"],"padding":0.5},"axis":null},"color":{"field":"kind","type":"nominal","scale":{"domain":["stat","sys","th"],"range":["#000000","#1432e6","#e8321e"]},"legend":null},"text":{"field":"up_t"}}},
{"mark":{"type":"text","align":"left","fontSize":22,"fontWeight":"bold","dy":20},"encoding":{"x":{"datum":-2.405,"type":"quantitative","scale":{"domain":[-2.4481,2],"nice":false,"zero":false}},"y":{"datum":"stat","type":"nominal","scale":{"type":"point","domain":["stat","sys","th"],"padding":0.5},"axis":null},"text":{"field":"label"}}},
{"mark":{"type":"text","align":"right","fontSize":22,"color":"#248c24","dy":-5},"encoding":{"x":{"datum":-1.0718,"type":"quantitative","scale":{"domain":[-2.4481,2],"nice":false,"zero":false}},"y":{"datum":"th","type":"nominal","scale":{"type":"point","domain":["stat","sys","th"],"padding":0.5},"axis":null},"text":{"field":"mu_t"}}},
{"mark":{"type":"text","align":"right","fontSize":14.5,"color":"#248c24","dy":9.5},"encoding":{"x":{"datum":-0.879,"type":"quantitative","scale":{"domain":[-2.4481,2],"nice":false,"zero":false}},"y":{"datum":"sys","type":"nominal","scale":{"type":"point","domain":["stat","sys","th"],"padding":0.5},"axis":null},"text":{"field":"up_t"}}},
{"mark":{"type":"text","align":"right","fontSize":14.5,"color":"#248c24","dy":7.5},"encoding":{"x":{"datum":-0.879,"type":"quantitative","scale":{"domain":[-2.4481,2],"nice":false,"zero":false}},"y":{"datum":"th","type":"nominal","scale":{"type":"point","domain":["stat","sys","th"],"padding":0.5},"axis":null},"text":{"field":"dn_t"}}}
]},

{"width":669,"height":80,"data":{"name":"ch"},"transform":[{"filter":"datum.id=='tt'"}],"layer":[
{"mark":{"type":"rect","color":"#9cf59c"},"encoding":{"x":{"field":"tlo","type":"quantitative","scale":{"domain":[-2.4481,2],"nice":false,"zero":false},"axis":{"orient":"bottom","ticks":false,"labels":false,"domain":false,"grid":false,"title":null}},"x2":{"field":"thi"}}},
{"data":{"name":"majors"},"mark":{"type":"point","shape":"M0,0L0,1","size":720,"strokeWidth":1.2,"color":"#444444","filled":false,"opacity":1},"encoding":{"x":{"field":"v","type":"quantitative","scale":{"domain":[-2.4481,2],"nice":false,"zero":false}},"y":{"datum":"th","type":"nominal","scale":{"type":"point","domain":["stat","sys","th"],"padding":0.5},"axis":null}}},
{"data":{"name":"minors"},"mark":{"type":"point","shape":"M0,0.63L0,1","size":720,"strokeWidth":1.2,"color":"#444444","filled":false,"opacity":1},"encoding":{"x":{"field":"v","type":"quantitative","scale":{"domain":[-2.4481,2],"nice":false,"zero":false}},"y":{"datum":"th","type":"nominal","scale":{"type":"point","domain":["stat","sys","th"],"padding":0.5},"axis":null}}},
{"mark":{"type":"rule","color":"#3c3c3c","strokeWidth":1.5},"encoding":{"x":{"datum":-0.8324,"type":"quantitative","scale":{"domain":[-2.4481,2],"nice":false,"zero":false}}}},
{"mark":{"type":"rule","color":"#3c3c3c","strokeWidth":1.5},"encoding":{"x":{"datum":-0.5,"type":"quantitative","scale":{"domain":[-2.4481,2],"nice":false,"zero":false}}}},
{"mark":{"type":"rule","color":"#333333","strokeWidth":1.5,"strokeDash":[1.5,7.2]},"encoding":{"x":{"datum":0,"type":"quantitative","scale":{"domain":[-2.4481,2],"nice":false,"zero":false}}}},
{"mark":{"type":"rule","color":"#000000","strokeWidth":2,"strokeDash":[2,1.5]},"encoding":{"x":{"datum":1,"type":"quantitative","scale":{"domain":[-2.4481,2],"nice":false,"zero":false}}}},
{"mark":{"type":"rule","color":"#000000","strokeWidth":2},"encoding":{"x":{"field":"mu","type":"quantitative","scale":{"domain":[-2.4481,2],"nice":false,"zero":false}}}},
{"data":{"name":"err"},"transform":[{"filter":"datum.id=='tt' && isValid(datum.lo)"}],"mark":{"type":"rule","strokeWidth":2},"encoding":{"x":{"field":"lo","type":"quantitative","scale":{"domain":[-2.4481,2],"nice":false,"zero":false}},"x2":{"field":"hi"},"y":{"field":"kind","type":"nominal","scale":{"type":"point","domain":["stat","sys","th"],"padding":0.5},"axis":null},"color":{"field":"kind","type":"nominal","scale":{"domain":["stat","sys","th"],"range":["#000000","#1432e6","#e8321e"]},"legend":null}}},
{"data":{"name":"err"},"transform":[{"filter":"datum.id=='tt' && isValid(datum.lo)"}],"mark":{"type":"point","shape":"M0,-1L0,1","size":64,"strokeWidth":2,"filled":false,"opacity":1},"encoding":{"x":{"field":"lo","type":"quantitative","scale":{"domain":[-2.4481,2],"nice":false,"zero":false}},"y":{"field":"kind","type":"nominal","scale":{"type":"point","domain":["stat","sys","th"],"padding":0.5},"axis":null},"color":{"field":"kind","type":"nominal","scale":{"domain":["stat","sys","th"],"range":["#000000","#1432e6","#e8321e"]},"legend":null}}},
{"data":{"name":"err"},"transform":[{"filter":"datum.id=='tt' && isValid(datum.lo)"}],"mark":{"type":"point","shape":"M0,-1L0,1","size":64,"strokeWidth":2,"filled":false,"opacity":1},"encoding":{"x":{"field":"hi","type":"quantitative","scale":{"domain":[-2.4481,2],"nice":false,"zero":false}},"y":{"field":"kind","type":"nominal","scale":{"type":"point","domain":["stat","sys","th"],"padding":0.5},"axis":null},"color":{"field":"kind","type":"nominal","scale":{"domain":["stat","sys","th"],"range":["#000000","#1432e6","#e8321e"]},"legend":null}}},
{"data":{"name":"err"},"transform":[{"filter":"datum.id=='tt'"}],"mark":{"type":"text","align":"left","baseline":"middle","fontSize":10.5,"dy":-6},"encoding":{"x":{"datum":-0.8058,"type":"quantitative","scale":{"domain":[-2.4481,2],"nice":false,"zero":false}},"y":{"field":"kind","type":"nominal","scale":{"type":"point","domain":["stat","sys","th"],"padding":0.5},"axis":null},"color":{"field":"kind","type":"nominal","scale":{"domain":["stat","sys","th"],"range":["#000000","#1432e6","#e8321e"]},"legend":null},"text":{"field":"up_t"}}},
{"data":{"name":"err"},"transform":[{"filter":"datum.id=='tt'"}],"mark":{"type":"text","align":"left","baseline":"middle","fontSize":10.5,"dy":6},"encoding":{"x":{"datum":-0.8058,"type":"quantitative","scale":{"domain":[-2.4481,2],"nice":false,"zero":false}},"y":{"field":"kind","type":"nominal","scale":{"type":"point","domain":["stat","sys","th"],"padding":0.5},"axis":null},"color":{"field":"kind","type":"nominal","scale":{"domain":["stat","sys","th"],"range":["#000000","#1432e6","#e8321e"]},"legend":null},"text":{"field":"dn_t"}}},
{"mark":{"type":"text","align":"left","fontSize":22,"fontWeight":"bold","dy":14},"encoding":{"x":{"datum":-2.405,"type":"quantitative","scale":{"domain":[-2.4481,2],"nice":false,"zero":false}},"y":{"datum":"stat","type":"nominal","scale":{"type":"point","domain":["stat","sys","th"],"padding":0.5},"axis":null},"text":{"field":"label"}}},
{"mark":{"type":"text","align":"left","fontSize":17.5,"fontWeight":"bold","dy":14},"encoding":{"x":{"datum":-1.856,"type":"quantitative","scale":{"domain":[-2.4481,2],"nice":false,"zero":false}},"y":{"datum":"stat","type":"nominal","scale":{"type":"point","domain":["stat","sys","th"],"padding":0.5},"axis":null},"text":{"field":"label2"}}},
{"mark":{"type":"text","align":"right","fontSize":22,"color":"#248c24","dy":-6},"encoding":{"x":{"datum":-1.0718,"type":"quantitative","scale":{"domain":[-2.4481,2],"nice":false,"zero":false}},"y":{"datum":"th","type":"nominal","scale":{"type":"point","domain":["stat","sys","th"],"padding":0.5},"axis":null},"text":{"field":"mu_t"}}},
{"mark":{"type":"text","align":"right","fontSize":14.5,"color":"#248c24","dy":9},"encoding":{"x":{"datum":-0.879,"type":"quantitative","scale":{"domain":[-2.4481,2],"nice":false,"zero":false}},"y":{"datum":"sys","type":"nominal","scale":{"type":"point","domain":["stat","sys","th"],"padding":0.5},"axis":null},"text":{"field":"up_t"}}},
{"mark":{"type":"text","align":"right","fontSize":14.5,"color":"#248c24","dy":7.3},"encoding":{"x":{"datum":-0.879,"type":"quantitative","scale":{"domain":[-2.4481,2],"nice":false,"zero":false}},"y":{"datum":"th","type":"nominal","scale":{"type":"point","domain":["stat","sys","th"],"padding":0.5},"axis":null},"text":{"field":"dn_t"}}},
{"mark":{"type":"text","font":"DejaVu Serif","fontWeight":"bold","fontSize":29,"align":"left","baseline":"middle","color":"#fff0a0","stroke":"#fff0a0","strokeWidth":5,"strokeJoin":"round"},"encoding":{"x":{"datum":-0.427,"type":"quantitative","scale":{"domain":[-2.4481,2],"nice":false,"zero":false}},"y":{"datum":"sys","type":"nominal","scale":{"type":"point","domain":["stat","sys","th"],"padding":0.5},"axis":null},"text":{"field":"sig"}}},
{"mark":{"type":"text","font":"DejaVu Serif","fontWeight":"bold","fontSize":29,"align":"left","baseline":"middle","color":"#1e1a10"},"encoding":{"x":{"datum":-0.427,"type":"quantitative","scale":{"domain":[-2.4481,2],"nice":false,"zero":false}},"y":{"datum":"sys","type":"nominal","scale":{"type":"point","domain":["stat","sys","th"],"padding":0.5},"axis":null},"text":{"field":"sig"}}}
]},

{"width":669,"height":5,"view":{"strokeOpacity":0},"data":{"values":[{}]},"mark":{"type":"text"},"encoding":{"text":{"value":""}}},

{"width":669,"height":81,"data":{"name":"ch"},"transform":[{"filter":"datum.id=='c2'"}],"layer":[
{"mark":{"type":"rect","color":"#9cf59c"},"encoding":{"x":{"field":"tlo","type":"quantitative","scale":{"domain":[-2.4481,2],"nice":false,"zero":false},"axis":{"orient":"bottom","ticks":false,"labels":false,"domain":false,"grid":false,"title":null}},"x2":{"field":"thi"}}},
{"data":{"name":"majors"},"mark":{"type":"point","shape":"M0,0L0,1","size":720,"strokeWidth":1.2,"color":"#444444","filled":false,"opacity":1},"encoding":{"x":{"field":"v","type":"quantitative","scale":{"domain":[-2.4481,2],"nice":false,"zero":false}},"y":{"datum":"th","type":"nominal","scale":{"type":"point","domain":["stat","sys","th"],"padding":0.5},"axis":null}}},
{"data":{"name":"minors"},"mark":{"type":"point","shape":"M0,0.63L0,1","size":720,"strokeWidth":1.2,"color":"#444444","filled":false,"opacity":1},"encoding":{"x":{"field":"v","type":"quantitative","scale":{"domain":[-2.4481,2],"nice":false,"zero":false}},"y":{"datum":"th","type":"nominal","scale":{"type":"point","domain":["stat","sys","th"],"padding":0.5},"axis":null}}},
{"mark":{"type":"rule","color":"#3c3c3c","strokeWidth":1.5},"encoding":{"x":{"datum":-0.8324,"type":"quantitative","scale":{"domain":[-2.4481,2],"nice":false,"zero":false}}}},
{"mark":{"type":"rule","color":"#3c3c3c","strokeWidth":1.5},"encoding":{"x":{"datum":-0.5,"type":"quantitative","scale":{"domain":[-2.4481,2],"nice":false,"zero":false}}}},
{"mark":{"type":"rule","color":"#333333","strokeWidth":1.5,"strokeDash":[1.5,7.2]},"encoding":{"x":{"datum":0,"type":"quantitative","scale":{"domain":[-2.4481,2],"nice":false,"zero":false}}}},
{"mark":{"type":"rule","color":"#000000","strokeWidth":2,"strokeDash":[2,1.5]},"encoding":{"x":{"datum":1,"type":"quantitative","scale":{"domain":[-2.4481,2],"nice":false,"zero":false}}}},
{"mark":{"type":"rule","color":"#000000","strokeWidth":2},"encoding":{"x":{"field":"mu","type":"quantitative","scale":{"domain":[-2.4481,2],"nice":false,"zero":false}}}},
{"data":{"name":"err"},"transform":[{"filter":"datum.id=='c2' && isValid(datum.lo)"}],"mark":{"type":"rule","strokeWidth":2},"encoding":{"x":{"field":"lo","type":"quantitative","scale":{"domain":[-2.4481,2],"nice":false,"zero":false}},"x2":{"field":"hi"},"y":{"field":"kind","type":"nominal","scale":{"type":"point","domain":["stat","sys","th"],"padding":0.5},"axis":null},"color":{"field":"kind","type":"nominal","scale":{"domain":["stat","sys","th"],"range":["#000000","#1432e6","#e8321e"]},"legend":null}}},
{"data":{"name":"err"},"transform":[{"filter":"datum.id=='c2' && isValid(datum.lo)"}],"mark":{"type":"point","shape":"M0,-1L0,1","size":64,"strokeWidth":2,"filled":false,"opacity":1},"encoding":{"x":{"field":"lo","type":"quantitative","scale":{"domain":[-2.4481,2],"nice":false,"zero":false}},"y":{"field":"kind","type":"nominal","scale":{"type":"point","domain":["stat","sys","th"],"padding":0.5},"axis":null},"color":{"field":"kind","type":"nominal","scale":{"domain":["stat","sys","th"],"range":["#000000","#1432e6","#e8321e"]},"legend":null}}},
{"data":{"name":"err"},"transform":[{"filter":"datum.id=='c2' && isValid(datum.lo)"}],"mark":{"type":"point","shape":"M0,-1L0,1","size":64,"strokeWidth":2,"filled":false,"opacity":1},"encoding":{"x":{"field":"hi","type":"quantitative","scale":{"domain":[-2.4481,2],"nice":false,"zero":false}},"y":{"field":"kind","type":"nominal","scale":{"type":"point","domain":["stat","sys","th"],"padding":0.5},"axis":null},"color":{"field":"kind","type":"nominal","scale":{"domain":["stat","sys","th"],"range":["#000000","#1432e6","#e8321e"]},"legend":null}}},
{"data":{"name":"err"},"transform":[{"filter":"datum.id=='c2'"}],"mark":{"type":"text","align":"left","baseline":"middle","fontSize":10.5,"dy":-6},"encoding":{"x":{"datum":-0.8058,"type":"quantitative","scale":{"domain":[-2.4481,2],"nice":false,"zero":false}},"y":{"field":"kind","type":"nominal","scale":{"type":"point","domain":["stat","sys","th"],"padding":0.5},"axis":null},"color":{"field":"kind","type":"nominal","scale":{"domain":["stat","sys","th"],"range":["#000000","#1432e6","#e8321e"]},"legend":null},"text":{"field":"up_t"}}},
{"data":{"name":"err"},"transform":[{"filter":"datum.id=='c2'"}],"mark":{"type":"text","align":"left","baseline":"middle","fontSize":10.5,"dy":6},"encoding":{"x":{"datum":-0.8058,"type":"quantitative","scale":{"domain":[-2.4481,2],"nice":false,"zero":false}},"y":{"field":"kind","type":"nominal","scale":{"type":"point","domain":["stat","sys","th"],"padding":0.5},"axis":null},"color":{"field":"kind","type":"nominal","scale":{"domain":["stat","sys","th"],"range":["#000000","#1432e6","#e8321e"]},"legend":null},"text":{"field":"dn_t"}}},
{"mark":{"type":"text","align":"left","fontSize":19.5,"fontWeight":"bold","dy":5.5},"encoding":{"x":{"datum":-2.405,"type":"quantitative","scale":{"domain":[-2.4481,2],"nice":false,"zero":false}},"y":{"datum":"stat","type":"nominal","scale":{"type":"point","domain":["stat","sys","th"],"padding":0.5},"axis":null},"text":{"field":"label"}}},
{"mark":{"type":"text","align":"left","fontSize":19.5,"fontWeight":"bold","dy":2},"encoding":{"x":{"datum":-2.405,"type":"quantitative","scale":{"domain":[-2.4481,2],"nice":false,"zero":false}},"y":{"datum":"sys","type":"nominal","scale":{"type":"point","domain":["stat","sys","th"],"padding":0.5},"axis":null},"text":{"field":"label2"}}},
{"mark":{"type":"text","align":"right","fontSize":22,"color":"#248c24","dy":-7},"encoding":{"x":{"datum":-1.125,"type":"quantitative","scale":{"domain":[-2.4481,2],"nice":false,"zero":false}},"y":{"datum":"th","type":"nominal","scale":{"type":"point","domain":["stat","sys","th"],"padding":0.5},"axis":null},"text":{"field":"mu_t"}}},
{"mark":{"type":"text","align":"right","fontSize":14.5,"color":"#248c24","dy":9},"encoding":{"x":{"datum":-0.879,"type":"quantitative","scale":{"domain":[-2.4481,2],"nice":false,"zero":false}},"y":{"datum":"sys","type":"nominal","scale":{"type":"point","domain":["stat","sys","th"],"padding":0.5},"axis":null},"text":{"field":"up_t"}}},
{"mark":{"type":"text","align":"right","fontSize":14.5,"color":"#248c24","dy":6.5},"encoding":{"x":{"datum":-0.879,"type":"quantitative","scale":{"domain":[-2.4481,2],"nice":false,"zero":false}},"y":{"datum":"th","type":"nominal","scale":{"type":"point","domain":["stat","sys","th"],"padding":0.5},"axis":null},"text":{"field":"dn_t"}}},
{"mark":{"type":"text","font":"DejaVu Serif","fontWeight":"bold","fontSize":29,"align":"left","baseline":"middle","color":"#fff0a0","stroke":"#fff0a0","strokeWidth":5,"strokeJoin":"round"},"encoding":{"x":{"datum":-0.427,"type":"quantitative","scale":{"domain":[-2.4481,2],"nice":false,"zero":false}},"y":{"datum":"sys","type":"nominal","scale":{"type":"point","domain":["stat","sys","th"],"padding":0.5},"axis":null},"text":{"field":"sig"}}},
{"mark":{"type":"text","font":"DejaVu Serif","fontWeight":"bold","fontSize":29,"align":"left","baseline":"middle","color":"#1e1a10"},"encoding":{"x":{"datum":-0.427,"type":"quantitative","scale":{"domain":[-2.4481,2],"nice":false,"zero":false}},"y":{"datum":"sys","type":"nominal","scale":{"type":"point","domain":["stat","sys","th"],"padding":0.5},"axis":null},"text":{"field":"sig"}}}
]},

{"width":669,"height":20,"view":{"strokeOpacity":0},"data":{"values":[{}]},"mark":{"type":"text"},"encoding":{"text":{"value":""}}},

{"width":669,"height":80,"data":{"name":"ch"},"transform":[{"filter":"datum.id=='all'"}],"layer":[
{"mark":{"type":"rect","color":"#9cf59c"},"encoding":{"x":{"field":"tlo","type":"quantitative","scale":{"domain":[-2.4481,2],"nice":false,"zero":false},"axis":{"orient":"bottom","values":[-0.5,0,0.5,1,1.5,2],"ticks":false,"domain":false,"grid":false,"format":"~g","labelExpr":"replace(datum.label, '−', '-')","labelFontSize":33,"labelColor":"#000000","labelPadding":11,"labelFlush":false,"labelOverlap":false,"title":"Signal strength (μ)","titleFontSize":31,"titleFontWeight":"normal","titleColor":"#000000","titleAnchor":"end","titlePadding":11,"zindex":1}},"x2":{"field":"thi"}}},
{"data":{"name":"majors"},"mark":{"type":"point","shape":"M0,0L0,1","size":720,"strokeWidth":1.2,"color":"#444444","filled":false,"opacity":1},"encoding":{"x":{"field":"v","type":"quantitative","scale":{"domain":[-2.4481,2],"nice":false,"zero":false}},"y":{"datum":"th","type":"nominal","scale":{"type":"point","domain":["stat","sys","th"],"padding":0.5},"axis":null}}},
{"data":{"name":"minors"},"mark":{"type":"point","shape":"M0,0.63L0,1","size":720,"strokeWidth":1.2,"color":"#444444","filled":false,"opacity":1},"encoding":{"x":{"field":"v","type":"quantitative","scale":{"domain":[-2.4481,2],"nice":false,"zero":false}},"y":{"datum":"th","type":"nominal","scale":{"type":"point","domain":["stat","sys","th"],"padding":0.5},"axis":null}}},
{"mark":{"type":"rule","color":"#3c3c3c","strokeWidth":1.5},"encoding":{"x":{"datum":-0.8324,"type":"quantitative","scale":{"domain":[-2.4481,2],"nice":false,"zero":false}}}},
{"mark":{"type":"rule","color":"#3c3c3c","strokeWidth":1.5},"encoding":{"x":{"datum":-0.5,"type":"quantitative","scale":{"domain":[-2.4481,2],"nice":false,"zero":false}}}},
{"mark":{"type":"rule","color":"#333333","strokeWidth":1.5,"strokeDash":[1.5,7.2]},"encoding":{"x":{"datum":0,"type":"quantitative","scale":{"domain":[-2.4481,2],"nice":false,"zero":false}}}},
{"mark":{"type":"rule","color":"#000000","strokeWidth":2,"strokeDash":[2,1.5]},"encoding":{"x":{"datum":1,"type":"quantitative","scale":{"domain":[-2.4481,2],"nice":false,"zero":false}}}},
{"mark":{"type":"rule","color":"#000000","strokeWidth":2},"encoding":{"x":{"field":"mu","type":"quantitative","scale":{"domain":[-2.4481,2],"nice":false,"zero":false}}}},
{"data":{"name":"err"},"transform":[{"filter":"datum.id=='all' && isValid(datum.lo)"}],"mark":{"type":"rule","strokeWidth":2},"encoding":{"x":{"field":"lo","type":"quantitative","scale":{"domain":[-2.4481,2],"nice":false,"zero":false}},"x2":{"field":"hi"},"y":{"field":"kind","type":"nominal","scale":{"type":"point","domain":["stat","sys","th"],"padding":0.5},"axis":null},"color":{"field":"kind","type":"nominal","scale":{"domain":["stat","sys","th"],"range":["#000000","#1432e6","#e8321e"]},"legend":null}}},
{"data":{"name":"err"},"transform":[{"filter":"datum.id=='all' && isValid(datum.lo)"}],"mark":{"type":"point","shape":"M0,-1L0,1","size":64,"strokeWidth":2,"filled":false,"opacity":1},"encoding":{"x":{"field":"lo","type":"quantitative","scale":{"domain":[-2.4481,2],"nice":false,"zero":false}},"y":{"field":"kind","type":"nominal","scale":{"type":"point","domain":["stat","sys","th"],"padding":0.5},"axis":null},"color":{"field":"kind","type":"nominal","scale":{"domain":["stat","sys","th"],"range":["#000000","#1432e6","#e8321e"]},"legend":null}}},
{"data":{"name":"err"},"transform":[{"filter":"datum.id=='all' && isValid(datum.lo)"}],"mark":{"type":"point","shape":"M0,-1L0,1","size":64,"strokeWidth":2,"filled":false,"opacity":1},"encoding":{"x":{"field":"hi","type":"quantitative","scale":{"domain":[-2.4481,2],"nice":false,"zero":false}},"y":{"field":"kind","type":"nominal","scale":{"type":"point","domain":["stat","sys","th"],"padding":0.5},"axis":null},"color":{"field":"kind","type":"nominal","scale":{"domain":["stat","sys","th"],"range":["#000000","#1432e6","#e8321e"]},"legend":null}}},
{"data":{"name":"err"},"transform":[{"filter":"datum.id=='all'"}],"mark":{"type":"text","align":"left","baseline":"middle","fontSize":10.5,"dy":-6},"encoding":{"x":{"datum":-0.8058,"type":"quantitative","scale":{"domain":[-2.4481,2],"nice":false,"zero":false}},"y":{"field":"kind","type":"nominal","scale":{"type":"point","domain":["stat","sys","th"],"padding":0.5},"axis":null},"color":{"field":"kind","type":"nominal","scale":{"domain":["stat","sys","th"],"range":["#000000","#1432e6","#e8321e"]},"legend":null},"text":{"field":"up_t"}}},
{"data":{"name":"err"},"transform":[{"filter":"datum.id=='all'"}],"mark":{"type":"text","align":"left","baseline":"middle","fontSize":10.5,"dy":6},"encoding":{"x":{"datum":-0.8058,"type":"quantitative","scale":{"domain":[-2.4481,2],"nice":false,"zero":false}},"y":{"field":"kind","type":"nominal","scale":{"type":"point","domain":["stat","sys","th"],"padding":0.5},"axis":null},"color":{"field":"kind","type":"nominal","scale":{"domain":["stat","sys","th"],"range":["#000000","#1432e6","#e8321e"]},"legend":null},"text":{"field":"dn_t"}}},
{"mark":{"type":"text","align":"left","fontSize":28,"fontWeight":"bold","dy":18.7},"encoding":{"x":{"datum":-2.405,"type":"quantitative","scale":{"domain":[-2.4481,2],"nice":false,"zero":false}},"y":{"datum":"stat","type":"nominal","scale":{"type":"point","domain":["stat","sys","th"],"padding":0.5},"axis":null},"text":{"field":"label"}}},
{"mark":{"type":"text","align":"right","fontSize":22,"color":"#248c24","dy":-5.3},"encoding":{"x":{"datum":-1.125,"type":"quantitative","scale":{"domain":[-2.4481,2],"nice":false,"zero":false}},"y":{"datum":"th","type":"nominal","scale":{"type":"point","domain":["stat","sys","th"],"padding":0.5},"axis":null},"text":{"field":"mu_t"}}},
{"mark":{"type":"text","align":"right","fontSize":14.5,"color":"#248c24","dy":11.3},"encoding":{"x":{"datum":-0.879,"type":"quantitative","scale":{"domain":[-2.4481,2],"nice":false,"zero":false}},"y":{"datum":"sys","type":"nominal","scale":{"type":"point","domain":["stat","sys","th"],"padding":0.5},"axis":null},"text":{"field":"up_t"}}},
{"mark":{"type":"text","align":"right","fontSize":14.5,"color":"#248c24","dy":8},"encoding":{"x":{"datum":-0.879,"type":"quantitative","scale":{"domain":[-2.4481,2],"nice":false,"zero":false}},"y":{"datum":"th","type":"nominal","scale":{"type":"point","domain":["stat","sys","th"],"padding":0.5},"axis":null},"text":{"field":"dn_t"}}},
{"mark":{"type":"text","align":"left","fontSize":19,"dy":62},"encoding":{"x":{"datum":-2.445,"type":"quantitative","scale":{"domain":[-2.4481,2],"nice":false,"zero":false}},"y":{"datum":"th","type":"nominal","scale":{"type":"point","domain":["stat","sys","th"],"padding":0.5},"axis":null},"text":{"value":"√s = 7 TeV ∫Ldt = 4.6-4.8 fb⁻¹"}}},
{"mark":{"type":"text","align":"left","fontSize":19,"dy":108},"encoding":{"x":{"datum":-2.445,"type":"quantitative","scale":{"domain":[-2.4481,2],"nice":false,"zero":false}},"y":{"datum":"th","type":"nominal","scale":{"type":"point","domain":["stat","sys","th"],"padding":0.5},"axis":null},"text":{"value":"√s = 8 TeV ∫Ldt = 20.3 fb⁻¹"}}}
]},

{"width":669,"height":103,"view":{"strokeOpacity":0},"data":{"values":[{}]},"mark":{"type":"text"},"encoding":{"text":{"value":""}}},

{"width":669,"height":50,"view":{"strokeOpacity":0},"data":{"values":[{}]},"layer":[
{"mark":{"type":"rect","color":"#f5d22c"},"encoding":{"x":{"datum":0.1046,"type":"quantitative","scale":{"domain":[0,1]},"axis":null},"x2":{"datum":0.9163},"y":{"datum":0,"type":"quantitative","scale":{"domain":[0,1],"reverse":true},"axis":null},"y2":{"datum":1}}},
{"mark":{"type":"text","align":"left","font":"DejaVu Serif","fontWeight":"bold","fontSize":35},"encoding":{"x":{"datum":0.1256,"type":"quantitative","scale":{"domain":[0,1]},"axis":null},"y":{"datum":0.77,"type":"quantitative","scale":{"domain":[0,1],"reverse":true},"axis":null},"text":{"value":"Combined μ = 1.30"}}},
{"mark":{"type":"text","align":"left","font":"DejaVu Serif","fontWeight":"bold","fontSize":22},"encoding":{"x":{"datum":0.698,"type":"quantitative","scale":{"domain":[0,1]},"axis":null},"y":{"datum":0.53,"type":"quantitative","scale":{"domain":[0,1],"reverse":true},"axis":null},"text":{"value":"+0.18"}}},
{"mark":{"type":"text","align":"left","font":"DejaVu Serif","fontWeight":"bold","fontSize":22},"encoding":{"x":{"datum":0.81,"type":"quantitative","scale":{"domain":[0,1]},"axis":null},"y":{"datum":0.85,"type":"quantitative","scale":{"domain":[0,1],"reverse":true},"axis":null},"text":{"value":"-0.17"}}}
]}
],
"spacing":0,
"bounds":"flush"
}
